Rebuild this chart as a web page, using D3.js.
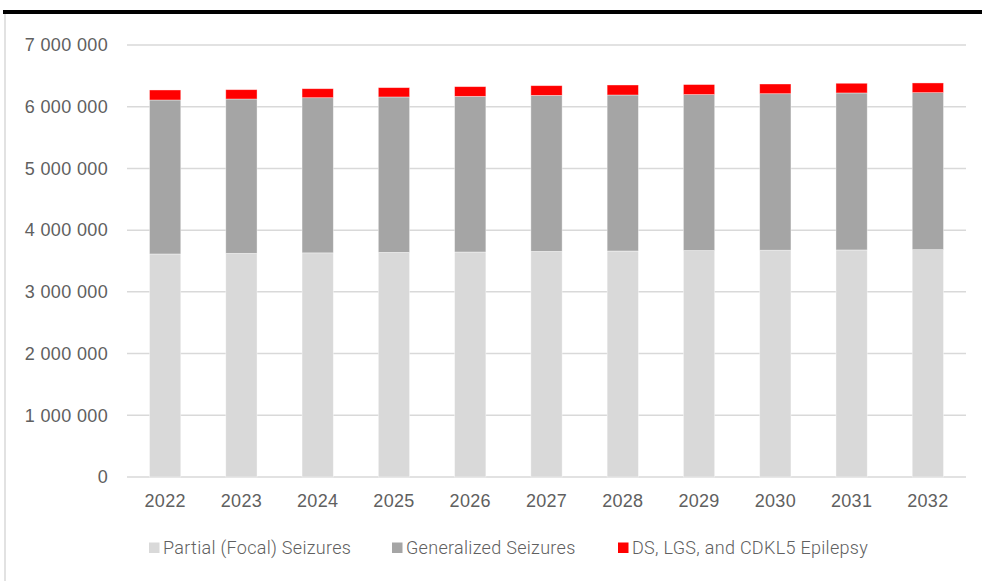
<!DOCTYPE html>
<html>
<head>
<meta charset="utf-8">
<script src="https://cdn.jsdelivr.net/npm/d3@7/dist/d3.min.js"></script>
<style>
  html, body { margin: 0; padding: 0; background: #fff; }
  svg { display: block; font-family: Roboto, "Liberation Sans", sans-serif; }
</style>
</head>
<body>
<svg id="chart" width="982" height="581"></svg>
<script>
const years = ["2022","2023","2024","2025","2026","2027","2028","2029","2030","2031","2032"];
const partialFocal = [3614000, 3624000, 3632000, 3640000, 3646000, 3656000, 3662000, 3670000, 3675000, 3679000, 3684000];
const generalized  = [2495000, 2501000, 2514000, 2518000, 2522000, 2528000, 2528000, 2527000, 2536000, 2544000, 2544000];
const dsLgsCdkl5   = [162000, 151000, 146000, 151000, 157000, 157000, 162000, 162000, 157000, 157000, 157000];
const yTicks = [0, 1000000, 2000000, 3000000, 4000000, 5000000, 6000000, 7000000];
const seriesNames = ["Partial (Focal) Seizures", "Generalized Seizures", "DS, LGS, and CDKL5 Epilepsy"];
const seriesColors = ["#d9d9d9", "#a5a5a5", "#ff0000"];

const svg = d3.select("#chart");
const textColor = "#606060";

// frame
svg.append("line").attr("x1", 5).attr("x2", 5).attr("y1", 12).attr("y2", 581)
  .attr("stroke", "#d9d9d9").attr("stroke-width", 1.5);
svg.append("rect").attr("x", 3).attr("y", 10).attr("width", 979).attr("height", 4).attr("fill", "#000");

const x = d3.scaleBand().domain(years).range([127, 966]).paddingInner(0.59).paddingOuter(0.295);
const y = d3.scaleLinear().domain([0, 7000000]).range([477, 45]);

const fmt = v => d3.format(",")(v).replace(/,/g, " ");

// gridlines
svg.append("g").selectAll("line").data(yTicks).join("line")
  .attr("x1", 127).attr("x2", 966)
  .attr("y1", d => y(d)).attr("y2", d => y(d))
  .attr("stroke", "#d9d9d9").attr("stroke-width", 1.5);

// y axis labels
const yAxis = d3.axisLeft(y).tickValues(yTicks).tickFormat(fmt).tickSize(0).tickPadding(0);
const yg = svg.append("g").attr("transform", "translate(108,0)").call(yAxis);
yg.select(".domain").remove();
yg.selectAll("text").attr("fill", textColor).style("font-size", "18px").style("font-weight", 300)
  .style("letter-spacing", "0.35px").attr("font-family", null);

// x axis labels
const xAxis = d3.axisBottom(x).tickSize(0).tickPadding(0);
const xg = svg.append("g").attr("transform", "translate(0,494)").call(xAxis);
xg.select(".domain").remove();
xg.selectAll("text").attr("fill", textColor).style("font-size", "18px").style("font-weight", 300)
  .style("letter-spacing", "0.3px").attr("dy", "0.71em").attr("font-family", null);

// stacked data
const rows = years.map((yr, i) => ({year: yr, s0: partialFocal[i], s1: generalized[i], s2: dsLgsCdkl5[i]}));
const stack = d3.stack().keys(["s0", "s1", "s2"]);
const stacked = stack(rows);

svg.append("g").selectAll("g").data(stacked).join("g")
  .attr("fill", (d, i) => seriesColors[i])
  .selectAll("rect").data(d => d).join("rect")
  .attr("x", d => x(d.data.year))
  .attr("width", x.bandwidth())
  .attr("y", d => y(d[1]))
  .attr("height", d => y(d[0]) - y(d[1]))
  .attr("stroke", "#ffffff").attr("stroke-opacity", 0.5).attr("stroke-width", 0.75);

// legend
const legendX = [149, 392, 618];
const lg = svg.append("g").selectAll("g").data(seriesNames).join("g")
  .attr("transform", (d, i) => `translate(${legendX[i]},548)`);
lg.append("rect").attr("x", 0).attr("y", -5.5).attr("width", 10.5).attr("height", 10.5)
  .attr("fill", (d, i) => seriesColors[i]);
lg.append("text").attr("x", 14).attr("y", 0).attr("dy", "0.35em")
  .attr("fill", textColor).style("font-size", "18px").style("font-weight", 300)
  .style("letter-spacing", "0.3px")
  .text(d => d);
</script>
</body>
</html>
